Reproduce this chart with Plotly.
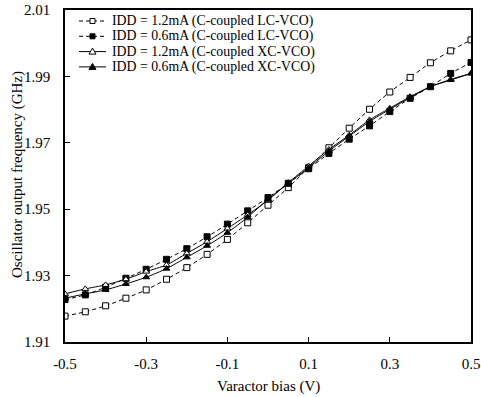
import plotly.graph_objects as go

bias = [-0.5, -0.45, -0.4, -0.35, -0.3, -0.25, -0.2, -0.15, -0.1, -0.05, 0.0,
        0.05, 0.1, 0.15, 0.2, 0.25, 0.3, 0.35, 0.4, 0.45, 0.5]

lc_12 = [1.9178, 1.9191, 1.9209, 1.9232, 1.9257, 1.9289, 1.9324, 1.9364, 1.9409, 1.9459, 1.9512,
         1.9565, 1.9625, 1.9685, 1.9744, 1.9801, 1.9853, 1.9897, 1.9941, 1.9977, 2.0010]
lc_06 = [1.9228, 1.9242, 1.9265, 1.9292, 1.9319, 1.9349, 1.9381, 1.9417, 1.9455, 1.9495, 1.9535,
         1.9578, 1.9622, 1.9668, 1.9711, 1.9751, 1.9794, 1.9834, 1.9869, 1.9909, 1.9942]
xc_12 = [1.9245, 1.9260, 1.9272, 1.9289, 1.9312, 1.9332, 1.9367, 1.9402, 1.9442, 1.9483, 1.9527,
         1.9580, 1.9630, 1.9680, 1.9723, 1.9769, 1.9804, 1.9839, 1.9869, 1.9891, 1.9909]
xc_06 = [1.9232, 1.9245, 1.9257, 1.9275, 1.9295, 1.9321, 1.9355, 1.9390, 1.9429, 1.9476, 1.9530,
         1.9578, 1.9625, 1.9675, 1.9720, 1.9764, 1.9801, 1.9836, 1.9869, 1.9889, 1.9909]

names = ["IDD = 1.2mA (C-coupled LC-VCO)", "IDD = 0.6mA (C-coupled LC-VCO)",
         "IDD = 1.2mA (C-coupled XC-VCO)", "IDD = 0.6mA (C-coupled XC-VCO)"]

x_ticks = [-0.5, -0.3, -0.1, 0.1, 0.3, 0.5]
y_ticks = [1.91, 1.93, 1.95, 1.97, 1.99, 2.01]
x_title = "Varactor bias (V)"
y_title = "Oscillator output frequency (GHz)"

FONT = "Liberation Serif"
DASH = "4px,3px"

W, H = 481, 397
ML, MR, MT, MB = 65, 10, 10, 55
PW, PH = W - ML - MR, H - MT - MB

def px_x(p):
    return (p - ML) / PW

def px_y(p):
    return (H - MB - p) / PH

styles = [
    (lc_12, DASH, "square", "white"),
    (lc_06, DASH, "square", "black"),
    (xc_12, "solid", "triangle-up", "white"),
    (xc_06, "solid", "triangle-up", "black"),
]

fig = go.Figure()
for (ys, dash, sym, fill), nm in zip(styles, names):
    fig.add_trace(go.Scatter(
        x=bias, y=ys, name=nm, mode="lines+markers", showlegend=False,
        line=dict(color="black", width=1, dash=dash, shape="spline", smoothing=0.6),
        marker=dict(symbol=sym, size=6, color=fill, line=dict(color="black", width=1)),
    ))

# hand-built legend (compact row spacing like the reference)
shapes = []
annotations = []
row0, row_gap = 21, 15.3
key_x0, key_x1, key_mid, text_x = 79, 106, 92.5, 110
square_path = "M-2.5,-2.5 L2.5,-2.5 L2.5,2.5 L-2.5,2.5 Z"
tri_path = "M-3.5,-2.5 L3.5,-2.5 L0,3.5 Z"
for i, ((ys, dash, sym, fill), nm) in enumerate(zip(styles, names)):
    yy = px_y(row0 + i * row_gap)
    shapes.append(dict(type="line", xref="paper", yref="paper",
                       x0=px_x(key_x0), x1=px_x(key_x1), y0=yy, y1=yy,
                       line=dict(color="black", width=1, dash=dash)))
    shapes.append(dict(type="path", xref="paper", yref="paper",
                       xsizemode="pixel", ysizemode="pixel",
                       xanchor=px_x(key_mid), yanchor=yy,
                       path=square_path if sym == "square" else tri_path,
                       fillcolor=fill, line=dict(color="black", width=1)))
    annotations.append(dict(text=nm, xref="paper", yref="paper",
                            x=px_x(text_x), y=yy, xanchor="left", yanchor="middle",
                            showarrow=False, font=dict(family=FONT, size=13.8, color="black")))

# axis titles placed like the reference
annotations.append(dict(text=x_title, xref="paper", yref="paper", x=0.5, y=px_y(387),
                        xanchor="center", yanchor="middle", showarrow=False,
                        font=dict(family=FONT, size=15, color="black")))
annotations.append(dict(text=y_title, xref="paper", yref="paper", x=px_x(17), y=px_y(175),
                        xanchor="center", yanchor="middle", textangle=-90, showarrow=False,
                        font=dict(family=FONT, size=15, color="black")))

fig.update_layout(
    width=W, height=H,
    margin=dict(l=ML, r=MR, t=MT, b=MB),
    paper_bgcolor="white", plot_bgcolor="white",
    font=dict(family=FONT, size=15, color="black"),
    showlegend=False,
    shapes=shapes,
    annotations=annotations,
    xaxis=dict(range=[-0.5, 0.5], tickvals=x_ticks, ticktext=[f"{v:g}" for v in x_ticks],
               ticks="inside", ticklen=5, tickcolor="black", showline=True, linecolor="black",
               linewidth=1.5, mirror=True, showgrid=False, zeroline=False, automargin=False,
               ticklabelstandoff=7),
    yaxis=dict(range=[1.91, 2.01], tickvals=y_ticks, ticktext=[f"{v:.2f}" for v in y_ticks],
               ticks="inside", ticklen=5, tickcolor="black", showline=True, linecolor="black",
               linewidth=1.5, mirror=True, showgrid=False, zeroline=False, automargin=False,
               ticklabelstandoff=10),
)

fig.write_html("out.html", config={"displayModeBar": False},
               post_script="document.body.style.margin='0';")
